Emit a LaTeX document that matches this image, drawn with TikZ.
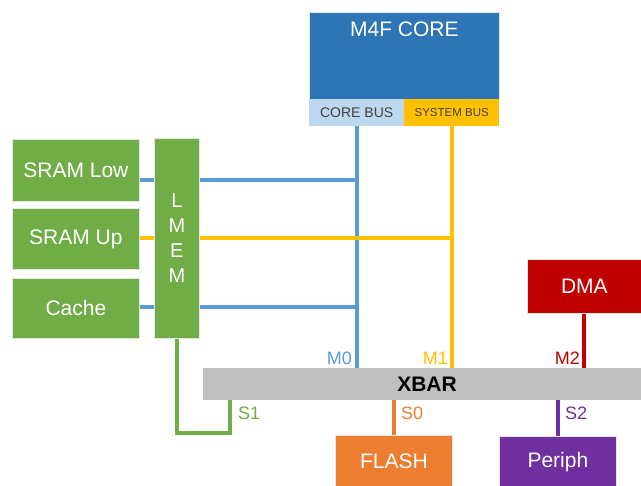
\documentclass[tikz,border=0pt]{standalone}
\usepackage{fontspec}
\setmainfont{Liberation Sans}
\definecolor{cblue}{HTML}{2E75B6}
\definecolor{lblue}{HTML}{BDD7EE}
\definecolor{gold}{HTML}{FFC000}
\definecolor{lineblue}{HTML}{5B9BD5}
\definecolor{cgreen}{HTML}{70AD47}
\definecolor{corange}{HTML}{ED7D31}
\definecolor{cred}{HTML}{C00000}
\definecolor{cpurple}{HTML}{7030A0}
\definecolor{cgray}{HTML}{BFBFBF}
\definecolor{dtext}{HTML}{404040}
\begin{document}
\begin{tikzpicture}[x=1pt,y=-1pt,
  box/.style={draw=white!90!black, line width=0.8pt, inner sep=0pt, anchor=north west, text=white, font=\fontsize{21}{24}\selectfont},
  busbox/.style={inner sep=0pt, anchor=north west, text=dtext},
  wire/.style={line width=4pt},
  lab/.style={inner sep=0pt, font=\fontsize{18}{21}\selectfont}
]
\useasboundingbox (0,0) rectangle (641,486);
% boxes
\node[box, fill=cblue, minimum width=190pt, minimum height=87pt,
  label={[anchor=center, text=white, font=\fontsize{21}{24}\selectfont, yshift=-17.5pt]north:M4F CORE}] (core) at (309,12) {};
\node[busbox, fill=lblue, minimum width=95pt, minimum height=27pt, font=\fontsize{14}{16}\selectfont] (corebus) at (309,99) {CORE BUS};
\node[busbox, fill=gold, minimum width=95pt, minimum height=27pt, font=\fontsize{11.5}{13}\selectfont] (sysbus) at (404,99) {SYSTEM BUS};
\node[box, fill=cgreen, minimum width=127pt, minimum height=62pt] (sramlow) at (12,139) {SRAM Low};
\node[box, fill=cgreen, minimum width=127pt, minimum height=61pt] (sramup) at (12,208) {SRAM Up};
\node[box, fill=cgreen, minimum width=127pt, minimum height=60pt] (cache) at (12,278) {Cache};
\node[box, fill=cgreen, minimum width=45pt, minimum height=200pt, align=center,
  font=\fontsize{20}{25}\selectfont] (lmem) at (154,138) {L\\M\\E\\M};
\node[box, fill=cred, minimum width=114pt, minimum height=54pt] (dma) at (527,259) {DMA};
\node[box, fill=corange, minimum width=117pt, minimum height=52pt] (flash) at (335,435) {FLASH};
\node[box, fill=cpurple, minimum width=117pt, minimum height=51pt] (periph) at (499,436) {Periph};
\node[fill=cgray, inner sep=0pt, anchor=north west, minimum width=438pt, minimum height=32pt] (xbar) at (203,368) {};
\node[inner sep=0pt, font=\bfseries\fontsize{21}{24}\selectfont] (xbarlab) at (427,384) {XBAR};
% coordinates
\coordinate (y1) at (0,180);
\coordinate (y2) at (0,238);
\coordinate (y3) at (0,307);
\coordinate (s1c) at (230,433);
% core bus and system bus verticals
\draw[wire, lineblue] (corebus.south) -- (corebus.south |- xbar.north);
\draw[wire, gold] (sysbus.south) -- (sysbus.south |- xbar.north);
% horizontals
\draw[wire, lineblue] (sramlow.east |- y1) -- (lmem.west |- y1);
\draw[wire, lineblue] (lmem.east |- y1) -- (corebus.south |- y1);
\draw[wire, gold] (sramup.east |- y2) -- (lmem.west |- y2);
\draw[wire, gold] (lmem.east |- y2) -- (sysbus.south |- y2);
\draw[wire, lineblue] (cache.east |- y3) -- (lmem.west |- y3);
\draw[wire, lineblue] (lmem.east |- y3) -- (corebus.south |- y3);
% LMEM to XBAR
\draw[wire, cgreen] (lmem.south) |- (s1c) -- (s1c |- xbar.south);
% DMA, flash, periph
\draw[wire, cred] (dma.south) -- (dma.south |- xbar.north);
\draw[wire, corange] (flash.north) -- (flash.north |- xbar.south);
\draw[wire, cpurple] (periph.north) -- (periph.north |- xbar.south);
% labels
\node[lab, text=lineblue, anchor=east] (m0) at (352,358) {M0};
\node[lab, text=gold, anchor=east] (m1) at (448,358) {M1};
\node[lab, text=cred, anchor=east] (m2) at (580,358) {M2};
\node[lab, text=cgreen, anchor=west] (s1) at (238,413) {S1};
\node[lab, text=corange, anchor=west] (s0) at (401,413) {S0};
\node[lab, text=cpurple, anchor=west] (s2) at (565,413) {S2};
\end{tikzpicture}
\end{document}
